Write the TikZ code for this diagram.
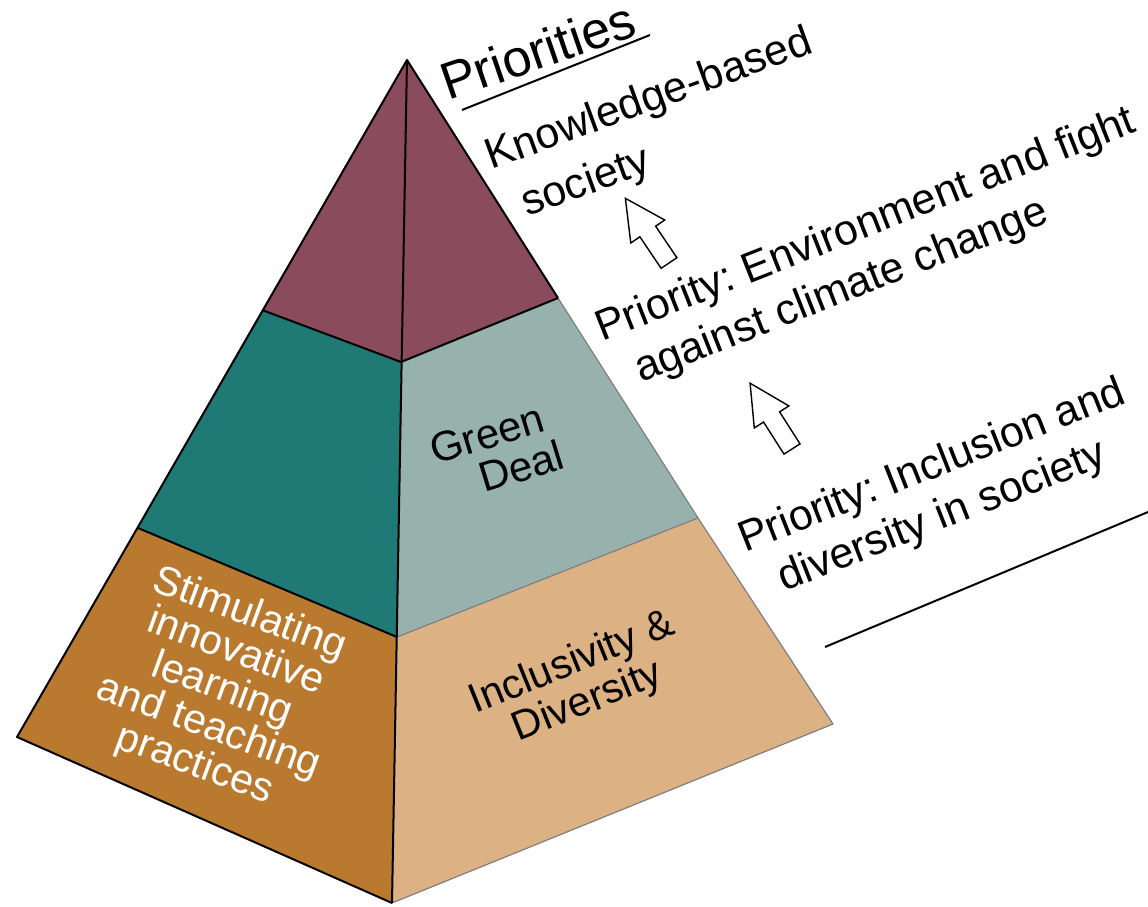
\documentclass[tikz,border=0pt]{standalone}
\usepackage{fontspec}
\setmainfont{Liberation Sans}
\frenchspacing
\definecolor{maroon}{HTML}{8A4B5C}
\definecolor{teal}{HTML}{1F7975}
\definecolor{sage}{HTML}{97B2AC}
\definecolor{brownface}{HTML}{B97A30}
\definecolor{tan}{HTML}{DCB284}
\definecolor{edgegray}{HTML}{7F7F7F}
\tikzset{
  blk/.style={draw=black, line width=2pt, line join=round},
  gry/.style={draw=edgegray, line width=1.2pt, line join=round},
  lbl/.style={inner sep=0pt, font=\fontsize{43}{48}\selectfont, anchor=base west},
  facetxt/.style={inner sep=0pt, align=center, font=\fontsize{41}{42}\selectfont},
  hollow/.style={draw=black, line width=1.4pt, fill=white, line join=miter},
}
\begin{document}
\begin{tikzpicture}[x=1pt,y=-1pt]
\useasboundingbox (0,0) rectangle (1148,907);
% pyramid corners
\coordinate (A) at (407,60);
\coordinate (L1) at (262,310);
\coordinate (L2) at (138,528);
\coordinate (L3) at (17,737);
\coordinate (M1) at (401,362);
\coordinate (M2) at (397,637);
\coordinate (M3) at (392,903);
\coordinate (R1) at (558,298);
\coordinate (R2) at (698,518);
\coordinate (R3) at (833,724);
% faces
\fill[maroon] (A) -- (L1) -- (M1) -- cycle;
\fill[maroon] (A) -- (M1) -- (R1) -- cycle;
\fill[teal] (L1) -- (L2) -- (M2) -- (M1) -- cycle;
\fill[sage] (M1) -- (M2) -- (R2) -- (R1) -- cycle;
\fill[brownface] (L2) -- (L3) -- (M3) -- (M2) -- cycle;
\fill[tan] (M2) -- (M3) -- (R3) -- (R2) -- cycle;
% edges
\draw[gry] (R1) -- (R2) -- (R3) -- (M3);
\draw[gry] (M2) -- (R2);
\draw[blk] (R1) -- (A) -- (L3) -- (M3);
\draw[blk] (L1) -- (M1) -- (R1);
\draw[blk] (L2) -- (M2);
\draw[blk] (A) -- (M3);
% face texts
\node[facetxt, text=white, rotate=-20, font=\fontsize{41}{40}\selectfont] (stim) at (222,690)
  {Stimulating\\innovative\\learning\\and teaching\\practices};
\node[facetxt, rotate=17, font=\fontsize{42}{42}\selectfont] (green) at (487,434) {Green};
\node[facetxt, rotate=17, font=\fontsize{42}{42}\selectfont] (deal) at (521,466) {Deal};
\node[facetxt, rotate=22] (incl) at (580,683) {Inclusivity \&\\Diversity};
% priorities heading
\node[lbl, rotate=19, font=\fontsize{52}{60}\selectfont] (prio) at (448,101) {Priorities};
\coordinate (ul1) at (462,110);
\coordinate (ul2) at (650,35);
\draw[line width=2pt] (ul1) -- (ul2);
% right-hand texts
\node[lbl, rotate=20] (kb1) at (491,170) {Knowledge-based};
\node[lbl, rotate=20] (kb2) at (527,217) {society};
\node[lbl, rotate=21.5] (env1) at (602,342) {Priority: Environment and fight};
\node[lbl, rotate=21.5] (env2) at (641,383) {against climate change};
\node[lbl, rotate=21.5] (inc1) at (745,553) {Priority: Inclusion and};
\node[lbl, rotate=21.5] (inc2) at (784,592) {diversity in society};
\coordinate (bl1) at (825,647);
\coordinate (bl2) at (1148,512);
\draw[line width=2pt] (bl1) -- (bl2);
% hollow up arrows
\begin{scope}[shift={(669,263)}, rotate=124]
  \draw[hollow] (0,-9.5) -- (38,-9.5) -- (38,-20.5) -- (78,0) -- (38,20.5) -- (38,9.5) -- (0,9.5) -- cycle;
\end{scope}
\begin{scope}[shift={(792,449)}, rotate=122.5]
  \draw[hollow] (0,-9.5) -- (38,-9.5) -- (38,-20.5) -- (78,0) -- (38,20.5) -- (38,9.5) -- (0,9.5) -- cycle;
\end{scope}
\end{tikzpicture}
\end{document}
